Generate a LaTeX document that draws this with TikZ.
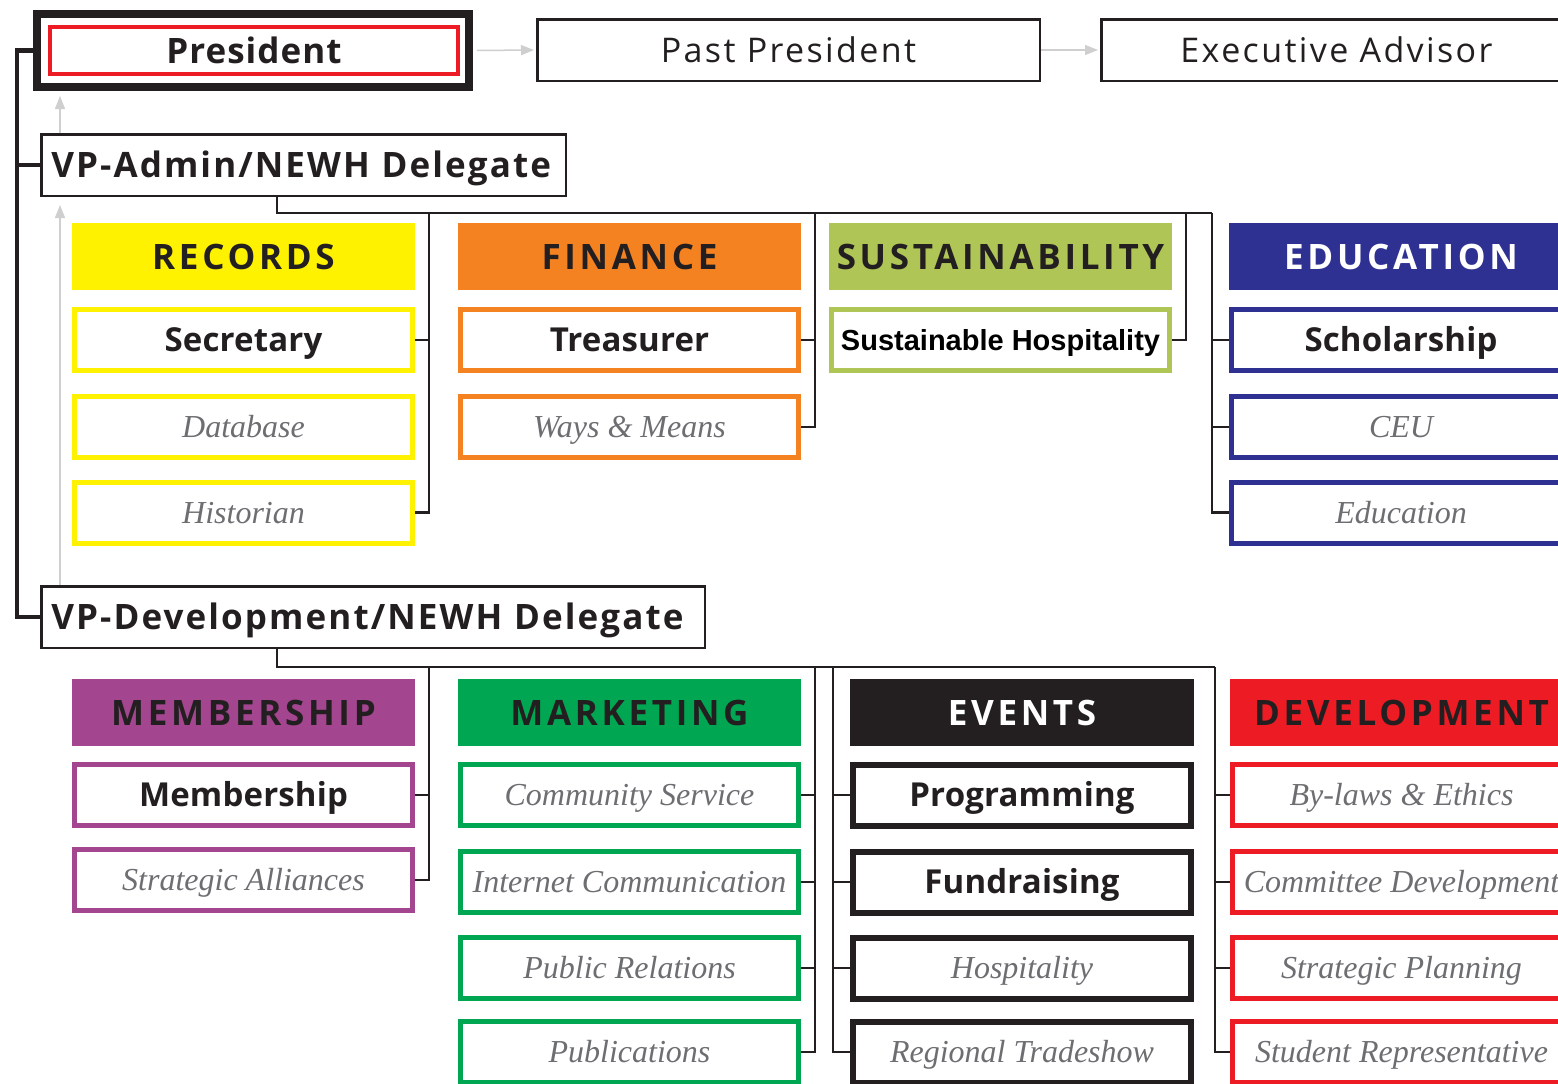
\documentclass[tikz,border=0pt]{standalone}
\usepackage{fontspec}
\usetikzlibrary{arrows.meta,backgrounds}
\newfontfamily\hdrfam[LetterSpace=10.5]{Open Sans}
\newfontfamily\presfam[LetterSpace=3]{Open Sans}
\newfontfamily\subfam[LetterSpace=0.5]{Open Sans}
\newfontfamily\topfam[LetterSpace=7]{Open Sans}
\newfontfamily\vpfam[LetterSpace=6]{Open Sans}
\newfontfamily\itfam{Liberation Serif}
\newfontfamily\arialfam{Liberation Sans}
\definecolor{ink}{HTML}{231F20}
\definecolor{itgray}{HTML}{6D6E71}
\definecolor{cyel}{HTML}{FFF200}
\definecolor{corg}{HTML}{F58220}
\definecolor{csus}{HTML}{AFC556}
\definecolor{cedu}{HTML}{2E3192}
\definecolor{cmem}{HTML}{A3458F}
\definecolor{cmkt}{HTML}{00A651}
\definecolor{cred}{HTML}{ED1C24}
\definecolor{garr}{HTML}{CFCFCF}
\begin{document}
\begin{tikzpicture}[x=1pt,y=-1pt,
  conn/.style={draw=ink,line width=2.5pt},
  mainline/.style={draw=ink,line width=4.5pt},
  garrow/.style={draw=garr,line width=1.5pt,-{Triangle[length=13pt,width=10pt]}},
  hdr/.style={rectangle,inner sep=0pt,minimum width=343pt,minimum height=67pt,text height=25pt,text depth=0pt,font={\hdrfam\bfseries\fontsize{35}{40}\selectfont}},
  subbox/.style={rectangle,fill=white,inner sep=0pt,line width=5pt,minimum width=338pt,minimum height=61pt},
  bsub/.style={subbox,text=ink,text height=23.6pt,text depth=0pt,font={\subfam\bfseries\fontsize{33}{38}\selectfont}},
  isub/.style={subbox,text=itgray,text height=21pt,text depth=0pt,font={\itfam\itshape\fontsize{32}{36}\selectfont}},
  topbox/.style={rectangle,draw=ink,fill=white,line width=2.5pt,inner sep=0pt,minimum height=61.5pt,text=ink,text height=24.3pt,text depth=0pt,font={\topfam\fontsize{34}{38}\selectfont}},
  vpbox/.style={rectangle,draw=ink,fill=white,line width=2.5pt,inner xsep=10pt,inner ysep=0pt,minimum height=61.5pt,align=left,text=ink,text height=25pt,text depth=0pt,font={\vpfam\bfseries\fontsize{35}{40}\selectfont}}
]
\useasboundingbox (0,0) rectangle (1558,1084);
\clip (0,0) rectangle (1558,1084);

% ---- top row
\node[rectangle,draw=ink,fill=white,line width=8pt,minimum width=432pt,minimum height=73pt,inner sep=0pt] (presout) at (253,50.5) {};
\node[rectangle,draw=cred,line width=4pt,minimum width=408pt,minimum height=47pt,inner sep=0pt,text=ink,text height=25pt,text depth=0pt,font={\presfam\bfseries\fontsize{35}{40}\selectfont}] (pres) at (254,50.5) {President};
\node[topbox,minimum width=502.5pt] (past) at (788.5,50) {Past President};
\node[topbox,minimum width=470.5pt] (exec) at (1336.5,50) {Executive Advisor};

\node[vpbox,text width=504.5pt] (vpa) at (303.5,165) {VP-Admin/NEWH Delegate};
\node[vpbox,text width=643.5pt] (vpd) at (373,617) {VP-Development/NEWH Delegate};

% ---- admin headers
\node[hdr,fill=cyel,text=ink] (rec) at (243.5,256.5) {RECORDS};
\node[hdr,fill=corg,text=ink] (fin) at (629.5,256.5) {FINANCE};
\node[hdr,fill=csus,text=ink] (sus) at (1000.5,256.5) {SUSTAINABILITY};
\node[hdr,fill=cedu,text=white,minimum width=344pt] (edu) at (1401,256.5) {EDUCATION};

% ---- admin sub boxes
\node[bsub,draw=cyel] (sec) at (243.5,340) {Secretary};
\node[isub,draw=cyel] (dbase) at (243.5,427) {Database};
\node[isub,draw=cyel] (hist) at (243.5,512.5) {Historian};
\node[bsub,draw=corg] (treas) at (629.5,340) {Treasurer};
\node[isub,draw=corg] (ways) at (629.5,427) {Ways \& Means};
\node[subbox,draw=csus,text=black,text height=20.8pt,text depth=0pt,font={\arialfam\bfseries\fontsize{29}{34}\selectfont}] (susth) at (1000.5,340) {Sustainable Hospitality};
\node[bsub,draw=cedu,minimum width=339pt] (schol) at (1401,340) {Scholarship};
\node[isub,draw=cedu,minimum width=339pt] (ceu) at (1401,427) {CEU};
\node[isub,draw=cedu,minimum width=339pt] (educ) at (1401,512.5) {Education};

% ---- development headers
\node[hdr,fill=cmem,text=ink] (mem) at (243.5,712.5) {MEMBERSHIP};
\node[hdr,fill=cmkt,text=ink] (mkt) at (629.5,712.5) {MARKETING};
\node[hdr,fill=ink,text=white,minimum width=344pt] (evt) at (1022,712.5) {EVENTS};
\node[hdr,fill=cred,text=ink] (dev) at (1401.5,712.5) {DEVELOPMENT};

% ---- development sub boxes
\node[bsub,draw=cmem] (memb) at (243.5,795) {Membership};
\node[isub,draw=cmem] (stral) at (243.5,880) {Strategic Alliances};
\node[isub,draw=cmkt] (comm) at (629.5,795) {Community Service};
\node[isub,draw=cmkt] (inet) at (629.5,882) {Internet Communication};
\node[isub,draw=cmkt] (pubr) at (629.5,968) {Public Relations};
\node[isub,draw=cmkt] (publ) at (629.5,1052) {Publications};
\node[bsub,draw=ink,line width=6pt] (prog) at (1022,795) {Programming};
\node[bsub,draw=ink,line width=6pt] (fund) at (1022,882) {Fundraising};
\node[isub,draw=ink,line width=6pt] (hosp) at (1022,968) {Hospitality};
\node[isub,draw=ink,line width=6pt] (trade) at (1022,1052) {Regional Tradeshow};
\node[isub,draw=cred] (bylaw) at (1401.5,795) {By-laws \& Ethics};
\node[isub,draw=cred] (cdev) at (1401.5,882) {Committee Development};
\node[isub,draw=cred] (splan) at (1401.5,968) {Strategic Planning};
\node[isub,draw=cred] (stud) at (1401.5,1052) {Student Representative};

% ---- bus coordinates
\coordinate (ml) at (17,617);
\coordinate (b1) at (277,213);
\coordinate (xa) at (429,213);
\coordinate (xf) at (815,213);
\coordinate (xs) at (1186,213);
\coordinate (xe) at (1212,213);
\coordinate (b2) at (277,667);
\coordinate (ya) at (429,667);
\coordinate (ym) at (815,667);
\coordinate (yv) at (833,667);
\coordinate (yd) at (1215,667);
\coordinate (g) at (60,0);

\begin{scope}[on background layer]
\fill[white] (0,0) rectangle (1558,1084);
% main left line
\draw[mainline] (presout.west) -| (ml) |- (vpd.west);
\draw[mainline] (vpa.west) -- (vpa.west -| ml);
% grey arrows
\draw[garrow,shorten <=4pt,shorten >=2pt] (presout.east) -- (past.west);
\draw[garrow,shorten >=2pt] (past.east) -- (exec.west);
\draw[garrow,shorten >=5pt] (vpa.north -| g) -- (presout.south -| g);
\draw[garrow,shorten >=8pt] (vpd.north -| g) -- (vpa.south -| g);
% admin bus
\draw[conn] (vpa.south -| b1) -- (b1) -- (xe);
\draw[conn] (xa) |- (hist.east);
\draw[conn] (sec.east) -- (sec.east -| xa);
\draw[conn] (xf) |- (ways.east);
\draw[conn] (treas.east) -- (treas.east -| xf);
\draw[conn] (xs) |- (susth.east);
\draw[conn] (xe) |- (educ.west);
\draw[conn] (schol.west) -- (schol.west -| xe);
\draw[conn] (ceu.west) -- (ceu.west -| xe);
% development bus
\draw[conn] (vpd.south -| b2) -- (b2) -- (yd);
\draw[conn] (ya) |- (stral.east);
\draw[conn] (memb.east) -- (memb.east -| ya);
\draw[conn] (ym) |- (publ.east);
\draw[conn] (comm.east) -- (comm.east -| ym);
\draw[conn] (inet.east) -- (inet.east -| ym);
\draw[conn] (pubr.east) -- (pubr.east -| ym);
\draw[conn] (yv) |- (trade.west);
\draw[conn] (prog.west) -- (prog.west -| yv);
\draw[conn] (fund.west) -- (fund.west -| yv);
\draw[conn] (hosp.west) -- (hosp.west -| yv);
\draw[conn] (yd) |- (stud.west);
\draw[conn] (bylaw.west) -- (bylaw.west -| yd);
\draw[conn] (cdev.west) -- (cdev.west -| yd);
\draw[conn] (splan.west) -- (splan.west -| yd);
\end{scope}
\end{tikzpicture}
\end{document}
